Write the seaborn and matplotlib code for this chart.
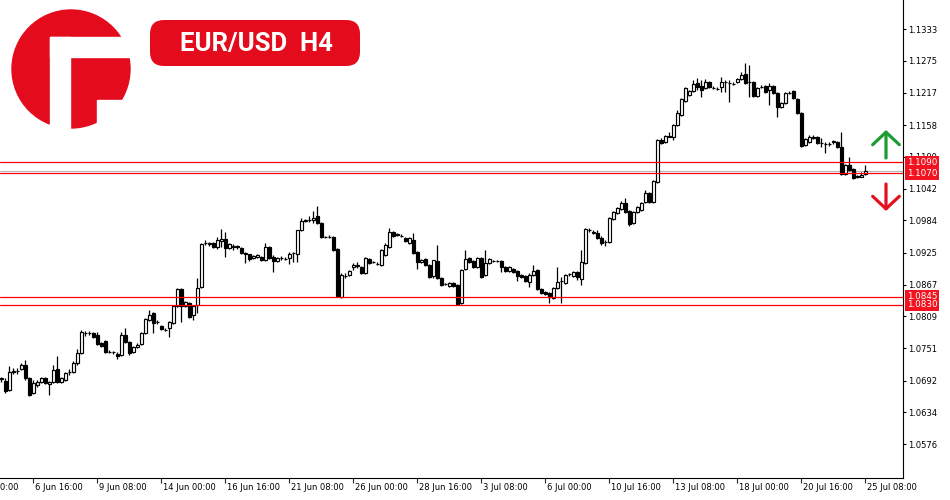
import matplotlib
matplotlib.use("Agg")
import matplotlib.pyplot as plt
from matplotlib.patches import Circle, Rectangle, FancyBboxPatch
import numpy as np
import seaborn as sns

sns.set_theme(style="white")
plt.rcParams['font.family'] = ['DejaVu Sans']

# EUR/USD H4 candles, 5 Jun 08:00 .. 25 Jul 08:00
opens = [
    1.0695, 1.0691, 1.0675, 1.0708, 1.0710, 1.0713, 1.0721, 1.0697, 1.0670, 1.0684,
    1.0690, 1.0697, 1.0686, 1.0690, 1.0713, 1.0690, 1.0693, 1.0708, 1.0708, 1.0724,
    1.0743, 1.0779, 1.0779, 1.0779, 1.0775, 1.0761, 1.0764, 1.0744, 1.0745, 1.0741,
    1.0739, 1.0775, 1.0763, 1.0744, 1.0753, 1.0759, 1.0779, 1.0803, 1.0815, 1.0799,
    1.0792, 1.0784, 1.0788, 1.0797, 1.0828, 1.0859, 1.0828, 1.0834, 1.0812, 1.0830,
    1.0863, 1.0943, 1.0941, 1.0943, 1.0936, 1.0947, 1.0950, 1.0934, 1.0936, 1.0937,
    1.0934, 1.0925, 1.0923, 1.0916, 1.0918, 1.0918, 1.0912, 1.0936, 1.0918, 1.0910,
    1.0916, 1.0914, 1.0916, 1.0925, 1.0923, 1.0967, 1.0983, 1.0984, 1.0985, 1.0992,
    1.0980, 1.0954, 1.0953, 1.0954, 1.0932, 1.0845, 1.0883, 1.0885, 1.0899, 1.0901,
    1.0899, 1.0888, 1.0914, 1.0908, 1.0905, 1.0903, 1.0921, 1.0936, 1.0963, 1.0959,
    1.0956, 1.0952, 1.0943, 1.0948, 1.0927, 1.0908, 1.0914, 1.0903, 1.0883, 1.0910,
    1.0879, 1.0868, 1.0865, 1.0870, 1.0867, 1.0834, 1.0896, 1.0916, 1.0910, 1.0899,
    1.0916, 1.0885, 1.0907, 1.0910, 1.0911, 1.0910, 1.0899, 1.0892, 1.0896, 1.0892,
    1.0885, 1.0883, 1.0872, 1.0885, 1.0894, 1.0859, 1.0854, 1.0852, 1.0843, 1.0861,
    1.0874, 1.0870, 1.0887, 1.0883, 1.0890, 1.0878, 1.0907, 1.0967, 1.0963, 1.0962,
    1.0952, 1.0945, 1.0945, 1.0987, 1.0998, 1.1005, 1.1016, 1.1001, 1.0980, 1.0999,
    1.1003, 1.1018, 1.1034, 1.1018, 1.1054, 1.1131, 1.1127, 1.1138, 1.1136, 1.1158,
    1.1176, 1.1202, 1.1213, 1.1220, 1.1235, 1.1229, 1.1226, 1.1237, 1.1226, 1.1224,
    1.1227, 1.1237, 1.1235, 1.1233, 1.1237, 1.1242, 1.1251, 1.1237, 1.1236, 1.1211,
    1.1227, 1.1229, 1.1222, 1.1229, 1.1217, 1.1191, 1.1198, 1.1217, 1.1220, 1.1206,
    1.1180, 1.1122, 1.1127, 1.1136, 1.1136, 1.1126, 1.1124, 1.1124, 1.1127, 1.1127,
    1.1118, 1.1069, 1.1085, 1.1078, 1.1065, 1.1064, 1.1069,
]
highs = [
    1.0699, 1.0697, 1.0719, 1.0715, 1.0715, 1.0724, 1.0730, 1.0699, 1.0693, 1.0693,
    1.0699, 1.0699, 1.0692, 1.0721, 1.0737, 1.0699, 1.0708, 1.0713, 1.0728, 1.0750,
    1.0784, 1.0783, 1.0783, 1.0781, 1.0781, 1.0763, 1.0766, 1.0748, 1.0746, 1.0744,
    1.0781, 1.0788, 1.0764, 1.0755, 1.0761, 1.0781, 1.0806, 1.0821, 1.0817, 1.0803,
    1.0793, 1.0788, 1.0801, 1.0830, 1.0861, 1.0861, 1.0837, 1.0835, 1.0830, 1.0879,
    1.0943, 1.0948, 1.0945, 1.0945, 1.0954, 1.0968, 1.0963, 1.0943, 1.0941, 1.0939,
    1.0936, 1.0927, 1.0923, 1.0921, 1.0923, 1.0919, 1.0943, 1.0938, 1.0921, 1.0918,
    1.0919, 1.0918, 1.0927, 1.0927, 1.0967, 1.0989, 1.0987, 1.0992, 1.1001, 1.1010,
    1.0981, 1.0956, 1.0958, 1.0956, 1.0934, 1.0888, 1.0888, 1.0894, 1.0907, 1.0908,
    1.0901, 1.0918, 1.0916, 1.0910, 1.0908, 1.0932, 1.0943, 1.0970, 1.0965, 1.0961,
    1.0959, 1.0954, 1.0954, 1.0961, 1.0928, 1.0914, 1.0916, 1.0905, 1.0912, 1.0939,
    1.0881, 1.0870, 1.0872, 1.0872, 1.0868, 1.0896, 1.0930, 1.0918, 1.0912, 1.0918,
    1.0918, 1.0930, 1.0916, 1.0912, 1.0912, 1.0912, 1.0901, 1.0901, 1.0897, 1.0894,
    1.0887, 1.0885, 1.0888, 1.0903, 1.0896, 1.0861, 1.0856, 1.0854, 1.0863, 1.0899,
    1.0881, 1.0887, 1.0888, 1.0892, 1.0892, 1.0930, 1.0970, 1.0970, 1.0967, 1.0967,
    1.0956, 1.0948, 1.0990, 1.1001, 1.1008, 1.1020, 1.1025, 1.1003, 1.1001, 1.1010,
    1.1018, 1.1040, 1.1036, 1.1058, 1.1132, 1.1134, 1.1140, 1.1145, 1.1160, 1.1186,
    1.1207, 1.1227, 1.1222, 1.1240, 1.1244, 1.1240, 1.1242, 1.1238, 1.1229, 1.1227,
    1.1245, 1.1240, 1.1240, 1.1237, 1.1244, 1.1255, 1.1271, 1.1268, 1.1238, 1.1227,
    1.1231, 1.1231, 1.1235, 1.1231, 1.1218, 1.1200, 1.1218, 1.1220, 1.1222, 1.1207,
    1.1182, 1.1134, 1.1140, 1.1140, 1.1138, 1.1134, 1.1127, 1.1127, 1.1131, 1.1129,
    1.1145, 1.1087, 1.1100, 1.1080, 1.1067, 1.1072, 1.1085,
]
lows = [
    1.0690, 1.0670, 1.0673, 1.0704, 1.0704, 1.0712, 1.0693, 1.0664, 1.0668, 1.0681,
    1.0688, 1.0686, 1.0666, 1.0688, 1.0688, 1.0688, 1.0692, 1.0702, 1.0706, 1.0721,
    1.0741, 1.0774, 1.0775, 1.0770, 1.0757, 1.0753, 1.0743, 1.0743, 1.0741, 1.0732,
    1.0737, 1.0761, 1.0739, 1.0743, 1.0752, 1.0757, 1.0777, 1.0801, 1.0779, 1.0795,
    1.0784, 1.0783, 1.0772, 1.0795, 1.0826, 1.0799, 1.0826, 1.0806, 1.0803, 1.0815,
    1.0861, 1.0939, 1.0938, 1.0934, 1.0932, 1.0936, 1.0917, 1.0932, 1.0930, 1.0932,
    1.0923, 1.0907, 1.0910, 1.0914, 1.0916, 1.0910, 1.0910, 1.0914, 1.0890, 1.0908,
    1.0912, 1.0912, 1.0905, 1.0908, 1.0908, 1.0965, 1.0981, 1.0981, 1.0980, 1.0978,
    1.0952, 1.0952, 1.0952, 1.0928, 1.0845, 1.0843, 1.0879, 1.0883, 1.0894, 1.0897,
    1.0887, 1.0887, 1.0905, 1.0907, 1.0903, 1.0901, 1.0919, 1.0934, 1.0954, 1.0956,
    1.0954, 1.0945, 1.0941, 1.0923, 1.0896, 1.0907, 1.0901, 1.0879, 1.0879, 1.0878,
    1.0865, 1.0867, 1.0863, 1.0863, 1.0830, 1.0832, 1.0894, 1.0907, 1.0897, 1.0897,
    1.0879, 1.0883, 1.0905, 1.0908, 1.0908, 1.0890, 1.0890, 1.0890, 1.0888, 1.0874,
    1.0879, 1.0872, 1.0863, 1.0883, 1.0857, 1.0850, 1.0848, 1.0834, 1.0841, 1.0859,
    1.0834, 1.0868, 1.0883, 1.0881, 1.0876, 1.0867, 1.0905, 1.0963, 1.0959, 1.0950,
    1.0939, 1.0938, 1.0943, 1.0985, 1.0996, 1.1003, 1.0998, 1.0974, 1.0978, 1.0998,
    1.1001, 1.1016, 1.1016, 1.1016, 1.1052, 1.1124, 1.1126, 1.1136, 1.1131, 1.1156,
    1.1174, 1.1200, 1.1211, 1.1218, 1.1222, 1.1209, 1.1224, 1.1226, 1.1224, 1.1222,
    1.1218, 1.1218, 1.1200, 1.1231, 1.1235, 1.1240, 1.1233, 1.1209, 1.1209, 1.1209,
    1.1226, 1.1217, 1.1195, 1.1215, 1.1173, 1.1189, 1.1196, 1.1215, 1.1206, 1.1178,
    1.1118, 1.1120, 1.1126, 1.1133, 1.1124, 1.1118, 1.1107, 1.1120, 1.1124, 1.1116,
    1.1067, 1.1067, 1.1074, 1.1060, 1.1062, 1.1063, 1.1067,
]
closes = [
    1.0696, 1.0673, 1.0708, 1.0710, 1.0709, 1.0721, 1.0697, 1.0666, 1.0688, 1.0690,
    1.0697, 1.0688, 1.0690, 1.0712, 1.0690, 1.0697, 1.0706, 1.0707, 1.0724, 1.0743,
    1.0781, 1.0778, 1.0778, 1.0772, 1.0759, 1.0755, 1.0744, 1.0745, 1.0744, 1.0737,
    1.0775, 1.0763, 1.0743, 1.0753, 1.0757, 1.0779, 1.0804, 1.0812, 1.0797, 1.0798,
    1.0786, 1.0785, 1.0799, 1.0828, 1.0859, 1.0828, 1.0835, 1.0808, 1.0828, 1.0861,
    1.0941, 1.0942, 1.0942, 1.0936, 1.0948, 1.0950, 1.0934, 1.0941, 1.0937, 1.0936,
    1.0925, 1.0923, 1.0914, 1.0919, 1.0921, 1.0912, 1.0936, 1.0916, 1.0910, 1.0916,
    1.0915, 1.0913, 1.0923, 1.0924, 1.0967, 1.0983, 1.0984, 1.0985, 1.0989, 1.0980,
    1.0954, 1.0953, 1.0954, 1.0930, 1.0846, 1.0885, 1.0882, 1.0892, 1.0903, 1.0902,
    1.0888, 1.0916, 1.0907, 1.0909, 1.0904, 1.0930, 1.0939, 1.0963, 1.0956, 1.0958,
    1.0955, 1.0947, 1.0952, 1.0925, 1.0908, 1.0912, 1.0903, 1.0881, 1.0912, 1.0879,
    1.0867, 1.0869, 1.0870, 1.0865, 1.0832, 1.0894, 1.0914, 1.0908, 1.0899, 1.0916,
    1.0881, 1.0907, 1.0914, 1.0911, 1.0910, 1.0899, 1.0892, 1.0899, 1.0890, 1.0883,
    1.0881, 1.0874, 1.0885, 1.0892, 1.0859, 1.0852, 1.0850, 1.0845, 1.0861, 1.0872,
    1.0873, 1.0885, 1.0886, 1.0890, 1.0881, 1.0908, 1.0968, 1.0966, 1.0962, 1.0952,
    1.0943, 1.0944, 1.0989, 1.0999, 1.1007, 1.1016, 1.0999, 1.0978, 1.0999, 1.1009,
    1.1016, 1.1034, 1.1018, 1.1056, 1.1131, 1.1126, 1.1138, 1.1137, 1.1158, 1.1180,
    1.1205, 1.1226, 1.1220, 1.1233, 1.1228, 1.1222, 1.1237, 1.1228, 1.1225, 1.1223,
    1.1237, 1.1236, 1.1234, 1.1232, 1.1242, 1.1249, 1.1235, 1.1236, 1.1211, 1.1226,
    1.1228, 1.1218, 1.1229, 1.1217, 1.1191, 1.1198, 1.1217, 1.1216, 1.1207, 1.1180,
    1.1120, 1.1133, 1.1136, 1.1135, 1.1126, 1.1125, 1.1123, 1.1123, 1.1128, 1.1118,
    1.1069, 1.1085, 1.1076, 1.1062, 1.1064, 1.1067, 1.1074,
]

# x axis labels every 16 bars (first one falls before the first visible bar)
x_tick_pos = [-8, 8, 24, 40, 56, 72, 88, 104, 120, 136, 152, 168, 184, 200, 216]
x_tick_labels = ["2 Jun 00:00", "6 Jun 16:00", "9 Jun 08:00", "14 Jun 00:00",
                 "16 Jun 16:00", "21 Jun 08:00", "26 Jun 00:00", "28 Jun 16:00",
                 "3 Jul 08:00", "6 Jul 00:00", "10 Jul 16:00", "13 Jul 08:00",
                 "18 Jul 00:00", "20 Jul 16:00", "25 Jul 08:00"]
y_ticks = [1.1333, 1.1275, 1.1217, 1.1158, 1.1100, 1.1042, 1.0984, 1.0925,
           1.0867, 1.0809, 1.0751, 1.0692, 1.0634, 1.0576]
levels = [1.1090, 1.1070, 1.0845, 1.0830]

assert len(opens) == len(highs) == len(lows) == len(closes)

o = np.array(opens)
h = np.array(highs)
l = np.array(lows)
c = np.array(closes)
idx = np.arange(len(c))
up = c >= o

fig = plt.figure(figsize=(9.5, 5.0), dpi=100)
ax = fig.add_axes([0, 22 / 500, 903 / 950, 478 / 500])

ax.vlines(idx, l, h, color="black", lw=0.9, zorder=2)
ax.bar(idx, c - o, bottom=o, width=0.6,
       color=np.where(up, "white", "black"), edgecolor="black",
       linewidth=0.85, zorder=3)

ax.set_xlim(-0.325, 225.4)
ax.set_ylim(1.05145, 1.13859)

# bid line + support/resistance levels
ax.axhline(c[-1], color="#b8b8b8", lw=0.8, zorder=1)
for lv in levels:
    ax.axhline(lv, color="#ff0000", lw=0.9, zorder=4)
    ax.annotate(f"{lv:.4f}", xy=(1, lv), xycoords=("axes fraction", "data"),
                xytext=(2.6, 0), textcoords="offset points", ha="left", va="center",
                color="white", fontsize=6.3, annotation_clip=False, zorder=6,
                bbox=dict(boxstyle="square,pad=0.22", fc="#f3121f", ec="none"))

for s in ["left", "top"]:
    ax.spines[s].set_visible(False)
for s in ["right", "bottom"]:
    ax.spines[s].set_color("black")
    ax.spines[s].set_linewidth(0.8)

ax.yaxis.tick_right()
ax.set_yticks(y_ticks)
ax.set_yticklabels([f"{v:.4f}" for v in y_ticks])
ax.tick_params(axis="y", direction="out", length=2.5, width=0.8, labelsize=6,
               pad=1.5, colors="black", right=True, left=False)

inside = [p for p in x_tick_pos if p >= 0]
ax.set_xticks(inside)
ax.set_xticklabels([""] * len(inside))
ax.tick_params(axis="x", direction="out", length=3.5, width=0.8, bottom=True)
for p, lab in zip(x_tick_pos, x_tick_labels):
    ax.annotate(lab, xy=(p, 0), xycoords=("data", "axes fraction"),
                xytext=(1.5, -6.5), textcoords="offset points", ha="left",
                va="center", fontsize=6, color="black", annotation_clip=False)
ax.grid(False)

# overlay in pixel units for logo, title and arrows
ov = fig.add_axes([0, 0, 1, 1], zorder=10)
ov.set_xlim(0, 950)
ov.set_ylim(500, 0)
ov.axis("off")

red = "#e30b1c"
ov.add_patch(Circle((71, 69), 59, color=red))
ov.add_patch(Rectangle((50, 37), 20, 100, color="white"))
ov.add_patch(Rectangle((50, 37), 85, 20, color="white"))
ov.add_patch(Rectangle((97, 100), 40, 40, color="white"))

ov.add_patch(FancyBboxPatch((150, 20), 210, 46,
                            boxstyle="round,pad=0,rounding_size=14",
                            fc=red, ec="none"))
ov.text(256, 44, "EUR/USD  H4", color="white", fontsize=18.5, fontweight="bold",
        family=["Roboto", "DejaVu Sans"], ha="center", va="center")

ov.annotate("", xy=(886, 130), xytext=(886, 158),
            arrowprops=dict(arrowstyle="->,head_length=0.75,head_width=0.8",
                            color="#1d9c33", lw=2.3, shrinkA=0, shrinkB=0))
ov.annotate("", xy=(886, 211), xytext=(886, 184),
            arrowprops=dict(arrowstyle="->,head_length=0.75,head_width=0.8",
                            color="#e3101e", lw=2.3, shrinkA=0, shrinkB=0))

fig.savefig("out.png", dpi=100)
